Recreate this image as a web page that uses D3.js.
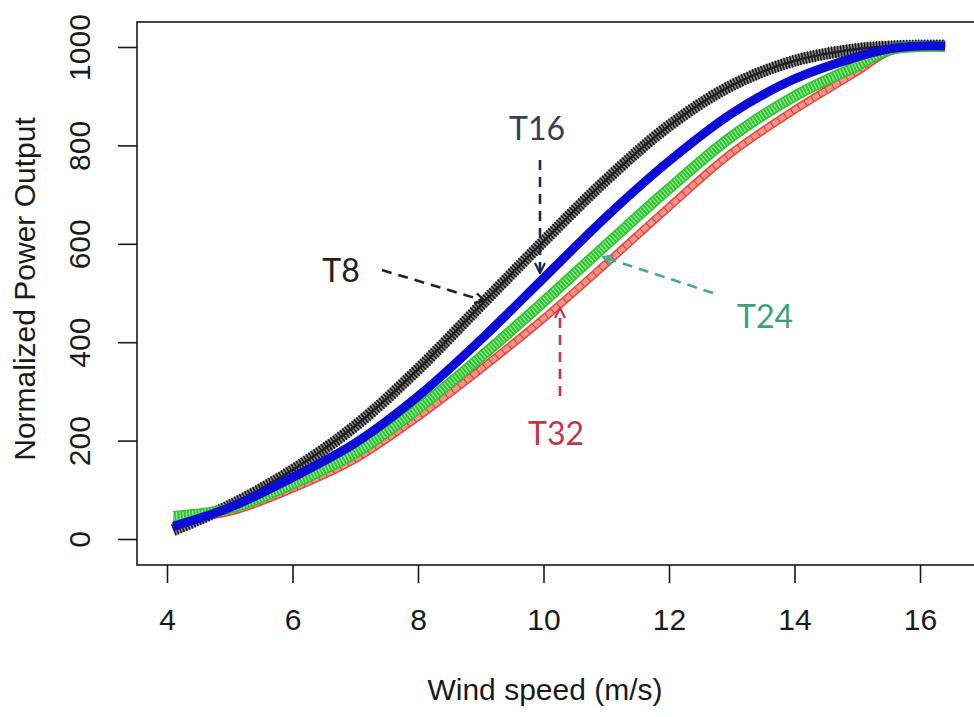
<!DOCTYPE html>
<html>
<head>
<meta charset="utf-8">
<script src="https://cdn.jsdelivr.net/npm/d3@7"></script>
<style>
  body { margin: 0; background: #fff; }
  svg { display: block; }
</style>
</head>
<body>
<script>
var width = 974, height = 717;

// wind speed (m/s) at which the curves were read
var windSpeed = [4.1, 5, 6, 7, 8, 9, 10, 11, 12, 13, 14, 15, 15.5, 16, 16.4];
// normalized power output per turbine group
var t8  = [18, 68, 140, 230, 345, 475, 605, 730, 840, 922, 972, 996, 1001, 1003, 1003];
var t16 = [26, 64, 125, 195, 290, 405, 530, 655, 768, 865, 935, 980, 996, 1002, 1002];
var t24 = [46, 62, 112, 175, 265, 370, 482, 598, 712, 818, 900, 962, 994, 1001, 1001];
var t32 = [40, 55, 102, 162, 248, 345, 448, 560, 675, 785, 872, 950, 990, 1000, 1000];

var xTicks = [4, 6, 8, 10, 12, 14, 16];
var yTicks = [0, 200, 400, 600, 800, 1000];

var svg = d3.select("body").append("svg")
    .attr("width", width)
    .attr("height", height);

var xScale = d3.scaleLinear().domain([4, 16]).range([167, 920]);
var yScale = d3.scaleLinear().domain([0, 1000]).range([539, 47]);

var box = { left: 137, top: 22, bottom: 565, right: 976 };

// curves
var line = d3.line()
    .x(function(d) { return xScale(d[0]); })
    .y(function(d) { return yScale(d[1]); })
    .curve(d3.curveCatmullRom.alpha(0.5));

function pts(vals) {
  return windSpeed.map(function(w, i) { return [w, vals[i]]; });
}

var curves = svg.append("g").attr("fill", "none").attr("stroke-linecap", "butt");

// T8 - black, hatched
curves.append("path").attr("d", line(pts(t8)))
    .attr("stroke", "#8a8a8a").attr("stroke-width", 11);
curves.append("path").attr("d", line(pts(t8)))
    .attr("stroke", "#111").attr("stroke-width", 12).attr("stroke-dasharray", "1.4 1.6");
curves.append("path").attr("d", line(pts(t8)))
    .attr("stroke", "#222").attr("stroke-width", 2.5);

// T32 - red
curves.append("path").attr("d", line(pts(t32)))
    .attr("stroke", "#e5484a").attr("stroke-width", 8);
curves.append("path").attr("d", line(pts(t32)))
    .attr("stroke", "#f59484").attr("stroke-width", 5);
curves.append("path").attr("d", line(pts(t32)))
    .attr("stroke", "#d83a30").attr("stroke-width", 6).attr("stroke-dasharray", "1 7");

// T24 - green
curves.append("path").attr("d", line(pts(t24)))
    .attr("stroke", "#2fc52f").attr("stroke-width", 11);
curves.append("path").attr("d", line(pts(t24)))
    .attr("stroke", "#9be89b").attr("stroke-width", 8).attr("stroke-dasharray", "1.2 2");

// T16 - blue
curves.append("path").attr("d", line(pts(t16)))
    .attr("stroke", "#0c0cd6").attr("stroke-width", 9);

// box
svg.append("rect")
    .attr("x", box.left).attr("y", box.top)
    .attr("width", box.right - box.left).attr("height", box.bottom - box.top)
    .attr("fill", "none").attr("stroke", "#1a1a1a").attr("stroke-width", 1.6);

// x axis
var xAxis = svg.append("g")
    .attr("transform", "translate(0," + box.bottom + ")")
    .call(d3.axisBottom(xScale).tickValues(xTicks).tickSize(18).tickPadding(26));
xAxis.select(".domain").remove();
xAxis.selectAll("line").attr("stroke", "#1a1a1a").attr("stroke-width", 1.6);
xAxis.selectAll("text")
    .attr("font-family", "Liberation Sans, Arial, sans-serif")
    .attr("font-size", 30).attr("fill", "#1a1a1a");

// y axis
var yAxis = svg.append("g")
    .attr("transform", "translate(" + box.left + ",0)")
    .call(d3.axisLeft(yScale).tickValues(yTicks).tickFormat(d3.format("d")).tickSize(19).tickPadding(0));
yAxis.select(".domain").remove();
yAxis.selectAll("line").attr("stroke", "#1a1a1a").attr("stroke-width", 1.6);
yAxis.selectAll("text")
    .attr("font-family", "Liberation Sans, Arial, sans-serif")
    .attr("font-size", 30).attr("fill", "#1a1a1a")
    .attr("x", null).attr("dy", null)
    .attr("text-anchor", "middle")
    .attr("transform", "translate(-47,0) rotate(-90)");

// axis titles
svg.append("text")
    .attr("x", 545).attr("y", 700)
    .attr("text-anchor", "middle")
    .attr("font-family", "Liberation Sans, Arial, sans-serif")
    .attr("font-size", 30).attr("fill", "#1a1a1a")
    .text("Wind speed (m/s)");

svg.append("text")
    .attr("transform", "translate(35,289) rotate(-90)")
    .attr("text-anchor", "middle")
    .attr("font-family", "Liberation Sans, Arial, sans-serif")
    .attr("font-size", 30).attr("fill", "#1a1a1a")
    .text("Normalized Power Output");

// annotations
var labels = [
  { name: "T8",  color: "#222",    text: "#222",    tx: 341, ty: 282, from: [382, 270], to: [485, 301] },
  { name: "T16", color: "#1b2850", text: "#344058", tx: 537, ty: 140, from: [540, 160], to: [540, 273] },
  { name: "T24", color: "#3fae8c", text: "#3d9e7e", tx: 765, ty: 328, from: [713, 293], to: [603, 257] },
  { name: "T32", color: "#c8344a", text: "#b93a4c", tx: 556, ty: 445, from: [560, 396], to: [560, 308] }
];

var defs = svg.append("defs");
labels.forEach(function(l) {
  defs.append("marker")
      .attr("id", "arr-" + l.name)
      .attr("viewBox", "0 0 12 12")
      .attr("refX", 11).attr("refY", 6)
      .attr("markerWidth", 12).attr("markerHeight", 12)
      .attr("markerUnits", "userSpaceOnUse")
      .attr("orient", "auto")
    .append("path")
      .attr("d", "M1,1 L11,6 L1,11")
      .attr("fill", "none").attr("stroke", l.color).attr("stroke-width", 2.2);
});

var ann = svg.append("g");
ann.selectAll("line").data(labels).enter().append("line")
    .attr("x1", function(d) { return d.from[0]; })
    .attr("y1", function(d) { return d.from[1]; })
    .attr("x2", function(d) { return d.to[0]; })
    .attr("y2", function(d) { return d.to[1]; })
    .attr("stroke", function(d) { return d.color; })
    .attr("stroke-width", 2.6)
    .attr("stroke-dasharray", "10 7")
    .attr("marker-end", function(d) { return "url(#arr-" + d.name + ")"; });

ann.selectAll("text").data(labels).enter().append("text")
    .attr("x", function(d) { return d.tx; })
    .attr("y", function(d) { return d.ty; })
    .attr("text-anchor", "middle")
    .attr("font-family", "Lato, sans-serif")
    .attr("font-size", 32)
    .attr("fill", function(d) { return d.text; })
    .text(function(d) { return d.name; });
</script>
</body>
</html>
